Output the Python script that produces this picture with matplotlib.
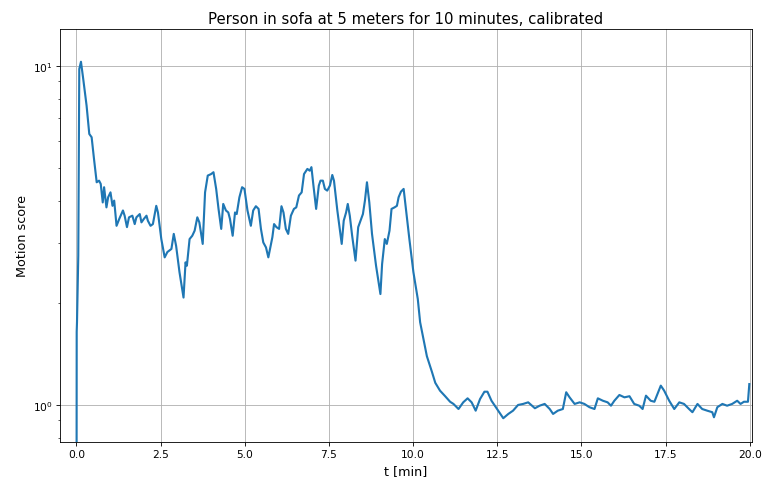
import matplotlib
matplotlib.use("Agg")
import matplotlib.pyplot as plt

t_min = [0.0, 0.006, 0.015, 0.053, 0.083, 0.133, 0.20, 0.30, 0.38, 0.45, 0.52, 0.60, 0.67, 0.72, 0.78, 0.82,
         0.89, 0.94, 1.01, 1.07, 1.12, 1.19, 1.27, 1.38, 1.43, 1.50, 1.56, 1.66, 1.73, 1.78, 1.88, 1.93,
         2.00, 2.08, 2.12, 2.20, 2.27, 2.37, 2.42, 2.52, 2.62, 2.70, 2.82, 2.89, 2.96, 3.06, 3.18, 3.24,
         3.28, 3.36, 3.44, 3.51, 3.59, 3.65, 3.75, 3.82, 3.90, 4.00, 4.07, 4.15, 4.22, 4.30, 4.36, 4.44,
         4.51, 4.56, 4.64, 4.71, 4.76, 4.84, 4.92, 4.99, 5.08, 5.18, 5.25, 5.33, 5.41, 5.48, 5.55, 5.63,
         5.70, 5.78, 5.82, 5.87, 5.94, 6.02, 6.09, 6.15, 6.22, 6.29, 6.37, 6.46, 6.53, 6.61, 6.69, 6.76,
         6.86, 6.93, 6.98, 7.04, 7.12, 7.20, 7.25, 7.32, 7.38, 7.45, 7.53, 7.60, 7.65, 7.75, 7.88, 7.94,
         8.01, 8.06, 8.12, 8.19, 8.29, 8.37, 8.44, 8.51, 8.57, 8.63, 8.70, 8.78, 8.90, 9.03, 9.08, 9.16,
         9.22, 9.30, 9.36, 9.45, 9.52, 9.57, 9.64, 9.72, 9.80, 9.89, 10.01, 10.14, 10.21, 10.41, 10.56, 10.66,
         10.80, 10.95, 11.10, 11.20, 11.35, 11.49, 11.62, 11.74, 11.86, 11.99, 12.12, 12.21, 12.33, 12.53, 12.68, 12.83,
         12.97, 13.12, 13.27, 13.42, 13.62, 13.76, 13.91, 14.06, 14.16, 14.30, 14.45, 14.55, 14.65, 14.80, 14.95, 15.09,
         15.24, 15.39, 15.49, 15.64, 15.78, 15.88, 15.98, 16.13, 16.28, 16.43, 16.57, 16.72, 16.82, 16.92, 17.06, 17.17,
         17.28, 17.36, 17.46, 17.61, 17.76, 17.91, 18.05, 18.20, 18.30, 18.45, 18.59, 18.74, 18.89, 18.94, 19.04, 19.19,
         19.33, 19.48, 19.63, 19.73, 19.83, 19.95, 19.99]

motion_score = [0.3, 1.64, 1.75, 2.75, 9.78, 10.27, 9.14, 7.62, 6.29, 6.15, 5.31, 4.53, 4.58, 4.48, 3.95, 4.38,
                3.82, 4.09, 4.23, 3.86, 4.00, 3.37, 3.53, 3.74, 3.61, 3.34, 3.57, 3.61, 3.41, 3.57, 3.65, 3.45,
                3.53, 3.61, 3.49, 3.37, 3.41, 3.86, 3.69, 3.08, 2.72, 2.82, 2.88, 3.19, 2.94, 2.46, 2.07, 2.63,
                2.57, 3.08, 3.15, 3.26, 3.57, 3.45, 2.98, 4.23, 4.74, 4.79, 4.85, 4.33, 3.78, 3.30, 3.91, 3.74,
                3.69, 3.53, 3.15, 3.69, 3.65, 4.09, 4.38, 4.33, 3.74, 3.37, 3.74, 3.85, 3.78, 3.30, 3.01, 2.91,
                2.72, 2.98, 3.12, 3.41, 3.34, 3.30, 3.85, 3.69, 3.30, 3.19, 3.61, 3.78, 3.82, 4.14, 4.23, 4.79,
                4.96, 4.90, 5.02, 4.43, 3.78, 4.43, 4.58, 4.58, 4.33, 4.28, 4.43, 4.76, 4.58, 3.74, 2.98, 3.49,
                3.69, 3.91, 3.61, 3.15, 2.66, 3.34, 3.49, 3.65, 4.00, 4.53, 3.95, 3.19, 2.57, 2.12, 2.60, 3.08,
                2.98, 3.26, 3.78, 3.82, 3.86, 4.09, 4.25, 4.33, 3.69, 3.08, 2.46, 2.05, 1.75, 1.39, 1.25, 1.16,
                1.10, 1.06, 1.02, 1.005, 0.971, 1.016, 1.044, 1.016, 0.960, 1.039, 1.092, 1.092, 1.027, 0.960, 0.912, 0.939,
                0.960, 0.998, 1.005, 1.016, 0.976, 0.993, 1.005, 0.971, 0.939, 0.960, 0.971, 1.088, 1.051, 1.005, 1.016, 1.005,
                0.983, 0.971, 1.044, 1.027, 1.016, 0.993, 1.027, 1.068, 1.051, 1.059, 1.005, 0.993, 0.971, 1.063, 1.027, 1.020,
                1.088, 1.138, 1.100, 1.027, 0.971, 1.016, 1.005, 0.971, 0.950, 1.005, 0.971, 0.960, 0.950, 0.918, 0.983, 1.005,
                0.993, 1.005, 1.027, 1.005, 1.020, 1.02, 1.15]

title = "Person in sofa at 5 meters for 10 minutes, calibrated"

fig = plt.figure(figsize=(10, 6.304), dpi=76.3)
ax = fig.add_axes([60 / 763, 1 - 443 / 481, 692 / 763, 413 / 481])
ax.plot(t_min, motion_score, color="#1f77b4", linewidth=2.0)
ax.set_yscale("log")
ax.set_xlim(-0.49, 20.07)
ax.set_ylim(0.776, 12.83)
ax.set_xticks([0.0, 2.5, 5.0, 7.5, 10.0, 12.5, 15.0, 17.5, 20.0])
ax.tick_params(labelsize=10)
ax.grid(True)
ax.set_title(title, fontsize=14)
ax.set_xlabel("t [min]", fontsize=12)
ax.set_ylabel("Motion score", fontsize=12)
fig.savefig("out.png", dpi=76.3)
